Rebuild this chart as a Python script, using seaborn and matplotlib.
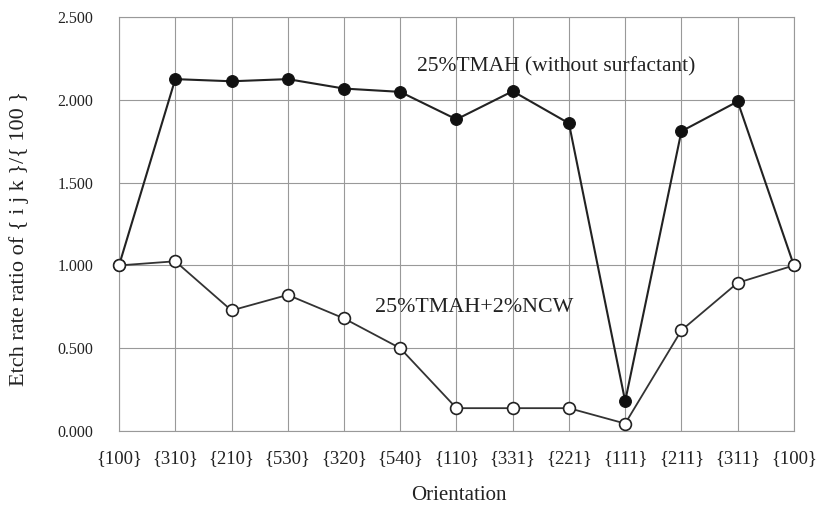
import matplotlib
matplotlib.use("Agg")
import numpy as np
import pandas as pd
import matplotlib.pyplot as plt
import seaborn as sns

orientations = ["{100}", "{310}", "{210}", "{530}", "{320}", "{540}", "{110}",
                "{331}", "{221}", "{111}", "{211}", "{311}", "{100}"]
tmah = [1.000, 2.125, 2.112, 2.125, 2.068, 2.048, 1.882, 2.052, 1.858, 0.180, 1.810, 1.990, 1.000]
tmah_ncw = [1.000, 1.025, 0.728, 0.822, 0.680, 0.500, 0.138, 0.138, 0.138, 0.045, 0.608, 0.895, 1.000]
y_ticks = [0.0, 0.5, 1.0, 1.5, 2.0, 2.5]

sns.set_style("white")
plt.rcParams["font.family"] = ["Liberation Serif", "DejaVu Serif"]

pos = np.arange(len(orientations))
df = pd.DataFrame({"pos": pos, "tmah": tmah, "ncw": tmah_ncw})

fig = plt.figure(figsize=(8.22, 5.05), dpi=100)
ax = fig.add_axes([0.1448, 0.1465, 0.821, 0.8198])

sns.lineplot(data=df, x="pos", y="tmah", ax=ax, color="#222222", lw=1.5,
             marker="o", markersize=8.5, markerfacecolor="#111111",
             markeredgecolor="#111111", zorder=3, clip_on=False)
sns.lineplot(data=df, x="pos", y="ncw", ax=ax, color="#333333", lw=1.3,
             marker="o", markersize=8.5, markerfacecolor="white",
             markeredgecolor="#222222", markeredgewidth=1.2, zorder=3, clip_on=False)

ax.set_xlim(pos[0], pos[-1])
ax.set_ylim(0, 2.5)
ax.set_xticks(pos)
ax.set_xticklabels(orientations, fontsize=13.5, color="#222222")
ax.set_yticks(y_ticks)
ax.set_yticklabels([f"{v:.3f}" for v in y_ticks], fontsize=11.5, color="#222222")
ax.tick_params(axis="y", length=0, pad=18.5)
ax.tick_params(axis="x", length=0, pad=13.5)
ax.grid(True, color="#999999", lw=0.8)
for s in ax.spines.values():
    s.set_color("#999999")
    s.set_linewidth(0.8)

ax.set_xlabel("Orientation", fontsize=15, color="#222222", va="baseline")
ax.xaxis.set_label_coords(0.5037, -0.167)
ax.set_ylabel("Etch rate ratio of { i j k }/{ 100 }", fontsize=16, color="#222222", va="center")
ax.yaxis.set_label_coords(-0.148, 0.466)

ax.text(7.78, 2.17, "25%TMAH (without surfactant)", fontsize=15.5, ha="center", va="baseline",
        color="#222222")
ax.text(6.31, 0.72, "25%TMAH+2%NCW", fontsize=15.8, ha="center", va="baseline",
        color="#222222")

fig.savefig("out.png", dpi=100)
